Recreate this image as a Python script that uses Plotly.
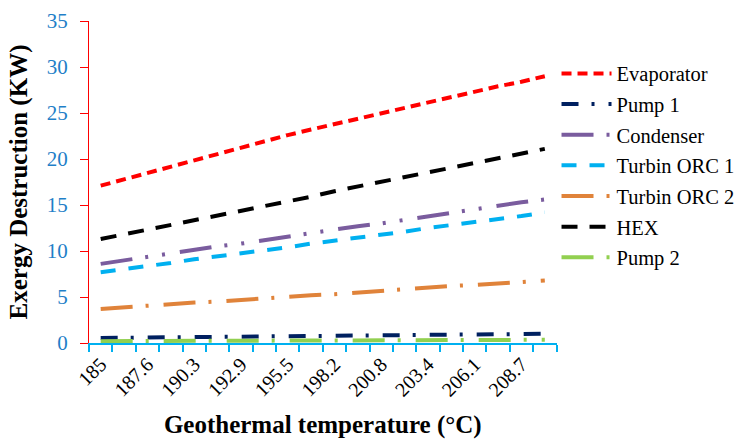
import plotly.graph_objects as go

temps = ["185", "186.3", "187.6", "188.9", "190.3", "191.6", "192.9", "194.2", "195.5", "196.8",
         "198.2", "199.5", "200.8", "202.1", "203.4", "204.7", "206.1", "207.4", "208.7", "210"]

evaporator = [17.1, 17.8, 18.5, 19.2, 19.9, 20.6, 21.3, 21.9, 22.6, 23.2,
              23.8, 24.4, 25.0, 25.6, 26.2, 26.8, 27.3, 27.9, 28.4, 29.0]
pump1 = [0.55, 0.57, 0.60, 0.62, 0.65, 0.67, 0.70, 0.72, 0.74, 0.77,
         0.79, 0.81, 0.84, 0.86, 0.88, 0.91, 0.93, 0.96, 0.98, 1.0]
condenser = [8.6, 9.0, 9.3, 9.7, 10.1, 10.5, 10.8, 11.2, 11.6, 11.9,
             12.3, 12.7, 13.0, 13.4, 13.8, 14.2, 14.5, 14.9, 15.3, 15.6]
turbin_orc1 = [7.7, 8.0, 8.4, 8.7, 9.1, 9.4, 9.7, 10.1, 10.4, 10.8,
               11.1, 11.4, 11.8, 12.1, 12.5, 12.8, 13.1, 13.5, 13.8, 14.2]
turbin_orc2 = [3.7, 3.9, 4.0, 4.2, 4.4, 4.5, 4.7, 4.8, 5.0, 5.2,
               5.3, 5.5, 5.7, 5.8, 6.0, 6.2, 6.3, 6.5, 6.6, 6.8]
hex_ = [11.3, 11.8, 12.3, 12.8, 13.4, 13.9, 14.4, 14.9, 15.4, 15.9,
        16.5, 17.0, 17.5, 18.0, 18.5, 19.0, 19.6, 20.1, 20.6, 21.1]
pump2 = [0.20, 0.21, 0.22, 0.22, 0.23, 0.24, 0.25, 0.25, 0.26, 0.27,
         0.28, 0.28, 0.29, 0.30, 0.31, 0.31, 0.32, 0.33, 0.34, 0.35]

series = [
    ("Evaporator", evaporator, "#FF0000", "10px,6px"),
    ("Pump 1", pump1, "#002060", "17px,13px,3px,14px"),
    ("Condenser", condenser, "#7A5C9E", "32px,13px,3px,14px,3px,15px"),
    ("Turbin ORC 1", turbin_orc1, "#00B0F0", "15px,13px"),
    ("Turbin ORC 2", turbin_orc2, "#E0833A", "32px,13px,3px,15px"),
    ("HEX", hex_, "#000000", "16px,12px"),
    ("Pump 2", pump2, "#92D050", "32px,13px,3px,15px"),
]

idx = list(range(len(temps)))
FONT = "Liberation Serif, Times New Roman, serif"

fig = go.Figure()
for i, (name, vals, color, dash) in enumerate(series):
    fig.add_trace(go.Scatter(
        x=idx, y=vals, name=name, mode="lines", legendgroup=str(i),
        line=dict(color=color, width=4, dash=dash),
    ))

fig.update_layout(
    width=744, height=439,
    margin=dict(l=89, r=187, t=21, b=96),
    paper_bgcolor="white", plot_bgcolor="white",
    font=dict(family=FONT, color="black"),
    legend=dict(
        xref="container", yref="container",
        x=0.748, y=0.878, xanchor="left", yanchor="top",
        font=dict(family=FONT, size=20.5, color="black"),
        itemwidth=50, tracegroupgap=1, bgcolor="rgba(0,0,0,0)",
        maxheight=400,
    ),
)

fig.update_xaxes(
    range=[-0.5, len(temps) - 0.5], automargin=False,
    tickmode="array", tickvals=idx[::2], ticktext=temps[::2],
    ticks="", tickangle=-45,
    tickfont=dict(family=FONT, size=20, color="black"),
    showline=True, linecolor="#00B0F0", linewidth=1.5,
    showgrid=False, zeroline=False,
    minor=dict(tickmode="array", tickvals=[i - 0.5 for i in range(len(temps) + 1)],
               ticks="outside", ticklen=7, tickcolor="#00B0F0", tickwidth=1.5, showgrid=False),
    title=dict(text="<b>Geothermal temperature (°C)</b>",
               font=dict(family=FONT, size=25, color="black"), standoff=16),
)
fig.update_yaxes(
    range=[0, 35], dtick=5, tick0=0, automargin=False,
    ticks="outside", ticklen=8, tickcolor="#FF0000", tickwidth=1,
    ticklabelstandoff=8,
    tickfont=dict(family=FONT, size=21, color="#1F7FC8"),
    showline=True, linecolor="#FF0000", linewidth=1,
    showgrid=False, zeroline=False,
    title=dict(text="<b>Exergy Destruction (KW)</b>",
               font=dict(family=FONT, size=25, color="black"), standoff=12),
)

fig.write_html("out.html", config={"displayModeBar": False},
               post_script="document.body.style.margin='0';")
